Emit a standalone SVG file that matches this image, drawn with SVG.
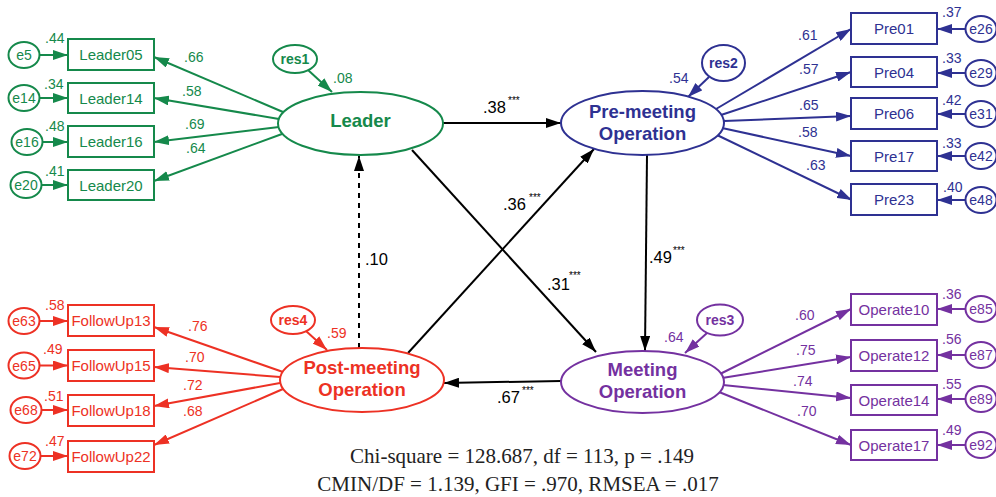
<svg xmlns="http://www.w3.org/2000/svg" width="996" height="497" viewBox="0 0 996 497">
<defs>
<style>
text{font-family:"Liberation Sans",Arial,sans-serif}
.bx{fill:#fff;stroke-width:2}
.el{fill:#fff;stroke-width:2}
.ln{fill:none;stroke-width:2}
.g{stroke:#15894b}.tg{fill:#15894b}
.b{stroke:#2e3192}.tb{fill:#2e3192}
.r{stroke:#ed3124}.tr{fill:#ed3124}
.p{stroke:#7431a0}.tp{fill:#7431a0}
.k{stroke:#000}.tk{fill:#000}
.bt{font-size:15px;text-anchor:middle}
.et{font-size:14px;text-anchor:middle}
.rt{font-size:14px;font-weight:bold;text-anchor:middle}
.lt{font-size:18.5px;font-weight:bold;text-anchor:middle}
.lb{font-size:14px}
.kl{font-size:16.5px}
.st{font-size:10px;fill:#000}
.ft{font-family:"Liberation Serif","Times New Roman",serif;font-size:21px;text-anchor:middle;fill:#222}
</style>
<marker id="ag" viewBox="0 0 15 10" refX="15" refY="5" markerWidth="15" markerHeight="10" markerUnits="userSpaceOnUse" orient="auto"><path d="M0,0L15,5L0,10z" fill="#15894b"/></marker>
<marker id="ab" viewBox="0 0 15 10" refX="15" refY="5" markerWidth="15" markerHeight="10" markerUnits="userSpaceOnUse" orient="auto"><path d="M0,0L15,5L0,10z" fill="#2e3192"/></marker>
<marker id="ar" viewBox="0 0 15 10" refX="15" refY="5" markerWidth="15" markerHeight="10" markerUnits="userSpaceOnUse" orient="auto"><path d="M0,0L15,5L0,10z" fill="#ed3124"/></marker>
<marker id="ap" viewBox="0 0 15 10" refX="15" refY="5" markerWidth="15" markerHeight="10" markerUnits="userSpaceOnUse" orient="auto"><path d="M0,0L15,5L0,10z" fill="#7431a0"/></marker>
<marker id="ak" viewBox="0 0 15 10" refX="15" refY="5" markerWidth="15" markerHeight="10" markerUnits="userSpaceOnUse" orient="auto"><path d="M0,0L15,5L0,10z" fill="#000"/></marker>
</defs>
<rect width="996" height="497" fill="#fff"/>

<g id="connectors">
  <g class="ln g" marker-end="url(#ag)">
    <line x1="39.5" y1="55" x2="68" y2="55"/>
    <line x1="39.5" y1="98" x2="68" y2="98"/>
    <line x1="42.5" y1="142" x2="68" y2="142"/>
    <line x1="41.5" y1="185" x2="68" y2="185"/>
    <line x1="283" y1="112" x2="154" y2="57"/>
    <line x1="279" y1="119" x2="154" y2="98"/>
    <line x1="279" y1="127" x2="154" y2="142"/>
    <line x1="282" y1="134" x2="154" y2="181"/>
    <line x1="308" y1="70" x2="332" y2="92"/>
  </g>
  <g class="ln b" marker-end="url(#ab)">
    <line x1="716" y1="109" x2="851" y2="29"/>
    <line x1="721" y1="115" x2="851" y2="72"/>
    <line x1="724" y1="121" x2="851" y2="116"/>
    <line x1="722" y1="128" x2="851" y2="156"/>
    <line x1="717" y1="135" x2="852" y2="200"/>
    <line x1="965.5" y1="29" x2="937" y2="29"/>
    <line x1="965.5" y1="73" x2="937" y2="73"/>
    <line x1="965.5" y1="114" x2="937" y2="114"/>
    <line x1="965.5" y1="156" x2="937" y2="156"/>
    <line x1="965.5" y1="200" x2="937" y2="200"/>
    <line x1="709" y1="77" x2="688" y2="97"/>
  </g>
  <g class="ln r" marker-end="url(#ar)">
    <line x1="39.5" y1="321" x2="68" y2="321"/>
    <line x1="39.5" y1="365.5" x2="68" y2="365.5"/>
    <line x1="41.5" y1="410" x2="68" y2="410"/>
    <line x1="40.5" y1="456" x2="68" y2="456"/>
    <line x1="283" y1="372" x2="154" y2="327"/>
    <line x1="280" y1="377" x2="154" y2="367"/>
    <line x1="280" y1="383" x2="154" y2="406"/>
    <line x1="283" y1="389" x2="154" y2="445"/>
    <line x1="306" y1="331" x2="327" y2="350"/>
  </g>
  <g class="ln p" marker-end="url(#ap)">
    <line x1="720" y1="374" x2="851" y2="309"/>
    <line x1="722" y1="378" x2="851" y2="357"/>
    <line x1="723" y1="385" x2="851" y2="398"/>
    <line x1="719" y1="392" x2="851" y2="445"/>
    <line x1="965.5" y1="309" x2="937" y2="309"/>
    <line x1="965.5" y1="355" x2="937" y2="355"/>
    <line x1="965.5" y1="399" x2="937" y2="399"/>
    <line x1="965.5" y1="445" x2="937" y2="445"/>
    <line x1="707" y1="333" x2="685" y2="353"/>
  </g>
  <g class="ln k" marker-end="url(#ak)">
    <line x1="443" y1="123" x2="561" y2="123"/>
    <line x1="412" y1="150" x2="596" y2="352"/>
    <line x1="408" y1="353" x2="594" y2="149"/>
    <line x1="647" y1="155" x2="645" y2="351"/>
    <line x1="561" y1="381" x2="444" y2="383"/>
    <line x1="359" y1="348" x2="359" y2="156" stroke-dasharray="5,5"/>
  </g>
</g>

<g id="Leader"><ellipse class="el g" cx="360.5" cy="123.5" rx="82.5" ry="31.5"/><text class="lt tg" x="360.5" y="127">Leader</text></g>
<g id="res1"><ellipse class="el g" cx="295" cy="59" rx="22" ry="14"/><text class="rt tg" x="295" y="64">res1</text></g>
<g id="Leader05"><rect class="bx g" x="68" y="39" width="86" height="31"/><text class="bt tg" x="111" y="60">Leader05</text></g>
<g id="Leader14"><rect class="bx g" x="68" y="83" width="86" height="30"/><text class="bt tg" x="111" y="103.5">Leader14</text></g>
<g id="Leader16"><rect class="bx g" x="68" y="126" width="86" height="31"/><text class="bt tg" x="111" y="147">Leader16</text></g>
<g id="Leader20"><rect class="bx g" x="68" y="170" width="86" height="30"/><text class="bt tg" x="111" y="190.5">Leader20</text></g>
<g id="e5"><ellipse class="el g" cx="24" cy="55" rx="15.5" ry="13"/><text class="et tg" x="24" y="60">e5</text></g>
<g id="e14"><ellipse class="el g" cx="24" cy="98" rx="15.5" ry="13"/><text class="et tg" x="24" y="103">e14</text></g>
<g id="e16"><ellipse class="el g" cx="27" cy="142" rx="15.5" ry="13"/><text class="et tg" x="27" y="147">e16</text></g>
<g id="e20"><ellipse class="el g" cx="26" cy="185" rx="15.5" ry="13"/><text class="et tg" x="26" y="190">e20</text></g>

<g id="PreMeeting"><ellipse class="el b" cx="642.5" cy="123" rx="81.5" ry="32"/><text class="lt tb" x="642.5" y="118">Pre-meeting</text><text class="lt tb" x="642.5" y="140">Operation</text></g>
<g id="res2"><ellipse class="el b" cx="723.5" cy="63" rx="21.5" ry="18"/><text class="rt tb" x="723.5" y="68">res2</text></g>
<g id="Pre01"><rect class="bx b" x="851" y="13" width="86" height="31"/><text class="bt tb" x="894" y="34">Pre01</text></g>
<g id="Pre04"><rect class="bx b" x="851" y="57" width="86" height="30"/><text class="bt tb" x="894" y="77.5">Pre04</text></g>
<g id="Pre06"><rect class="bx b" x="851" y="98" width="86" height="31"/><text class="bt tb" x="894" y="119">Pre06</text></g>
<g id="Pre17"><rect class="bx b" x="851" y="141" width="86" height="30"/><text class="bt tb" x="894" y="161.5">Pre17</text></g>
<g id="Pre23"><rect class="bx b" x="851" y="184" width="86" height="31"/><text class="bt tb" x="894" y="205">Pre23</text></g>
<g id="e26"><ellipse class="el b" cx="981" cy="29" rx="15.5" ry="13"/><text class="et tb" x="981" y="34">e26</text></g>
<g id="e29"><ellipse class="el b" cx="981" cy="73" rx="15.5" ry="13"/><text class="et tb" x="981" y="78">e29</text></g>
<g id="e31"><ellipse class="el b" cx="981" cy="114" rx="15.5" ry="13"/><text class="et tb" x="981" y="119">e31</text></g>
<g id="e42"><ellipse class="el b" cx="981" cy="156" rx="15.5" ry="13"/><text class="et tb" x="981" y="161">e42</text></g>
<g id="e48"><ellipse class="el b" cx="981" cy="200" rx="15.5" ry="13"/><text class="et tb" x="981" y="205">e48</text></g>

<g id="PostMeeting"><ellipse class="el r" cx="362" cy="380" rx="82" ry="32"/><text class="lt tr" x="362" y="374">Post-meeting</text><text class="lt tr" x="362" y="396">Operation</text></g>
<g id="res4"><ellipse class="el r" cx="293" cy="320" rx="22" ry="14"/><text class="rt tr" x="293" y="325">res4</text></g>
<g id="FollowUp13"><rect class="bx r" x="68" y="305" width="86" height="31"/><text class="bt tr" x="111" y="326">FollowUp13</text></g>
<g id="FollowUp15"><rect class="bx r" x="68" y="350" width="86" height="31"/><text class="bt tr" x="111" y="371">FollowUp15</text></g>
<g id="FollowUp18"><rect class="bx r" x="68" y="395" width="86" height="31"/><text class="bt tr" x="111" y="416">FollowUp18</text></g>
<g id="FollowUp22"><rect class="bx r" x="68" y="441" width="86" height="31"/><text class="bt tr" x="111" y="462">FollowUp22</text></g>
<g id="e63"><ellipse class="el r" cx="24" cy="321" rx="15.5" ry="13"/><text class="et tr" x="24" y="326">e63</text></g>
<g id="e65"><ellipse class="el r" cx="24" cy="365.5" rx="15.5" ry="13"/><text class="et tr" x="24" y="370.5">e65</text></g>
<g id="e68"><ellipse class="el r" cx="26" cy="410" rx="15.5" ry="13"/><text class="et tr" x="26" y="415">e68</text></g>
<g id="e72"><ellipse class="el r" cx="25" cy="456" rx="15.5" ry="13"/><text class="et tr" x="25" y="461">e72</text></g>

<g id="Meeting"><ellipse class="el p" cx="642.5" cy="382" rx="81.5" ry="31"/><text class="lt tp" x="642.5" y="376">Meeting</text><text class="lt tp" x="642.5" y="398">Operation</text></g>
<g id="res3"><ellipse class="el p" cx="720" cy="320" rx="23" ry="15.5"/><text class="rt tp" x="720" y="325">res3</text></g>
<g id="Operate10"><rect class="bx p" x="851" y="294" width="86" height="31"/><text class="bt tp" x="894" y="315">Operate10</text></g>
<g id="Operate12"><rect class="bx p" x="851" y="340" width="86" height="31"/><text class="bt tp" x="894" y="361">Operate12</text></g>
<g id="Operate14"><rect class="bx p" x="851" y="385" width="86" height="30"/><text class="bt tp" x="894" y="405.5">Operate14</text></g>
<g id="Operate17"><rect class="bx p" x="851" y="430" width="86" height="30"/><text class="bt tp" x="894" y="450.5">Operate17</text></g>
<g id="e85"><ellipse class="el p" cx="981" cy="309" rx="15.5" ry="13"/><text class="et tp" x="981" y="314">e85</text></g>
<g id="e87"><ellipse class="el p" cx="981" cy="355" rx="15.5" ry="13"/><text class="et tp" x="981" y="360">e87</text></g>
<g id="e89"><ellipse class="el p" cx="981" cy="399" rx="15.5" ry="13"/><text class="et tp" x="981" y="404">e89</text></g>
<g id="e92"><ellipse class="el p" cx="981" cy="445" rx="15.5" ry="13"/><text class="et tp" x="981" y="450">e92</text></g>

<g id="labels-green" class="tg lb">
  <text x="45" y="43">.44</text><text x="44" y="89">.34</text><text x="45" y="131">.48</text><text x="45" y="176">.41</text>
  <text x="184" y="62">.66</text><text x="182" y="96">.58</text><text x="185" y="129">.69</text><text x="186" y="153">.64</text>
  <text x="333" y="83">.08</text>
</g>
<g id="labels-blue" class="tb lb">
  <text x="942" y="17">.37</text><text x="942" y="63">.33</text><text x="942" y="105">.42</text><text x="942" y="148">.33</text><text x="943" y="192">.40</text>
  <text x="798" y="40">.61</text><text x="799" y="74">.57</text><text x="799" y="110">.65</text><text x="798" y="137">.58</text><text x="806" y="170">.63</text>
  <text x="669" y="83">.54</text>
</g>
<g id="labels-red" class="tr lb">
  <text x="45" y="310">.58</text><text x="43" y="354">.49</text><text x="44" y="401">.51</text><text x="45" y="446">.47</text>
  <text x="188" y="331">.76</text><text x="185" y="362">.70</text><text x="183" y="390">.72</text><text x="183" y="416">.68</text>
  <text x="327" y="338">.59</text>
</g>
<g id="labels-purple" class="tp lb">
  <text x="942" y="299">.36</text><text x="942" y="344">.56</text><text x="942" y="389">.55</text><text x="942" y="435">.49</text>
  <text x="795" y="320">.60</text><text x="796" y="355">.75</text><text x="793" y="386">.74</text><text x="797" y="416">.70</text>
  <text x="664" y="342">.64</text>
</g>
<g id="labels-paths" class="tk">
  <text class="kl" x="483" y="113">.38</text><text class="st" x="508" y="104">***</text>
  <text class="kl" x="503" y="210">.36</text><text class="st" x="529" y="201">***</text>
  <text class="kl" x="365" y="265">.10</text>
  <text class="kl" x="547" y="290">.31</text><text class="st" x="569" y="279">***</text>
  <text class="kl" x="649" y="263">.49</text><text class="st" x="673" y="254">***</text>
  <text class="kl" x="497" y="403">.67</text><text class="st" x="522" y="394">***</text>
</g>
<g id="fit">
  <text class="ft" x="522" y="463">Chi-square = 128.687, df = 113, p = .149</text>
  <text class="ft" x="518" y="491">CMIN/DF = 1.139, GFI = .970, RMSEA = .017</text>
</g>
</svg>
